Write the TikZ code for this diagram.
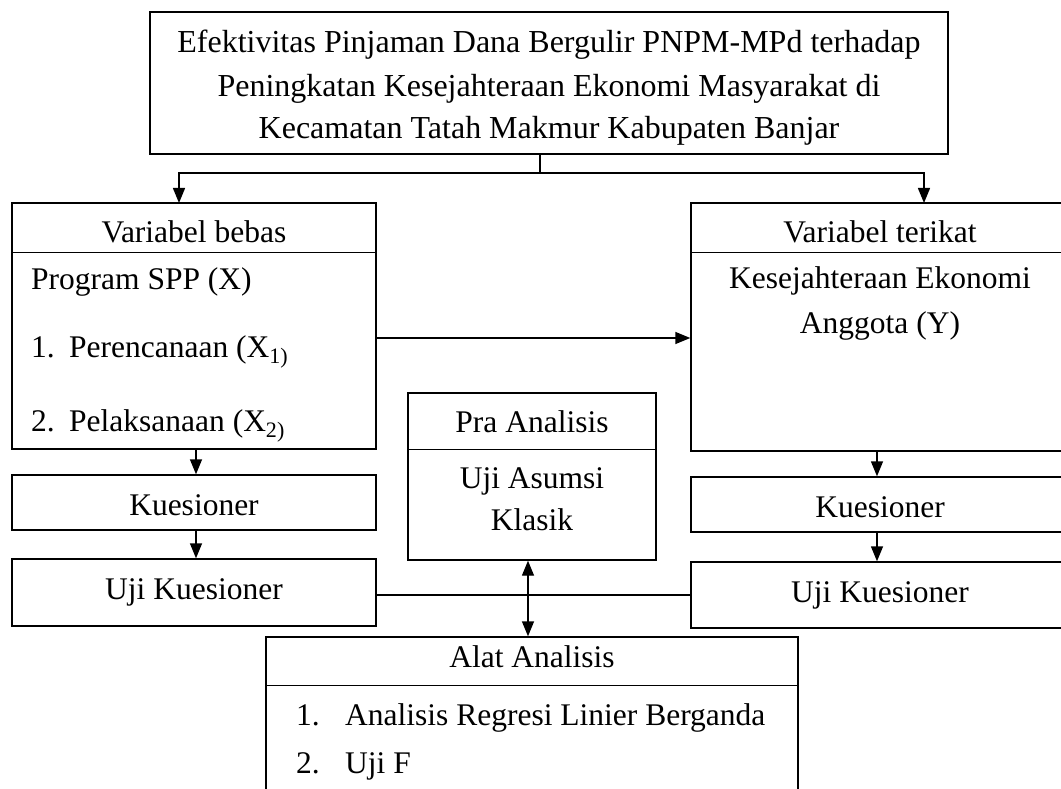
\documentclass[tikz,border=0pt]{standalone}
\usepackage{fontspec}
\setmainfont{Liberation Serif}
\usetikzlibrary{arrows.meta}
\begin{document}
\begin{tikzpicture}[x=1pt,y=-1pt,
  box/.style={draw, line width=1.4pt, inner sep=0pt, minimum width=#1},
  txt/.style={inner sep=0pt, font=\fontsize{31.5}{38}\selectfont},
  title/.style={inner sep=0pt, font=\fontsize{32}{38}\selectfont},
  conn/.style={line width=1.4pt},
  arr/.style={conn, -{Triangle[length=15pt,width=12pt]}},
  arrtwo/.style={conn, {Triangle[length=15pt,width=12pt]}-{Triangle[length=15pt,width=12pt]}}]
\clip (0,0) rectangle (1061,789);
% boxes
\node[box=798pt, minimum height=142pt] (top) at (549,83) {};
\node[box=364pt, minimum height=246pt] (vb) at (194,326) {};
\node[box=378pt, minimum height=248pt] (vt) at (880,327) {};
\node[box=364pt, minimum height=55pt] (kl) at (194,502.5) {};
\node[box=364pt, minimum height=67pt] (ukl) at (194,592.5) {};
\node[box=378pt, minimum height=55pt] (kr) at (880,504.5) {};
\node[box=378pt, minimum height=66pt] (ukr) at (880,595) {};
\node[box=248pt, minimum height=167pt] (pra) at (532,476.5) {};
\node[box=532pt, minimum height=173pt] (alat) at (532,723.5) {};
% dividers
\draw[conn] (vb.north west) ++(0,50) -- ++(364,0);
\draw[conn] (vt.north west) ++(0,50) -- ++(378,0);
\draw[conn] (pra.north west) ++(0,57) -- ++(248,0);
\draw[conn] (alat.north west) ++(0,49) -- ++(532,0);
% texts
\node[title, anchor=base] (t1) at (549,53) {Efektivitas Pinjaman Dana Bergulir PNPM-MPd terhadap};
\node[title, anchor=base] (t2) at (549,97) {Peningkatan Kesejahteraan Ekonomi Masyarakat di};
\node[title, anchor=base] (t3) at (549,139) {Kecamatan Tatah Makmur Kabupaten Banjar};
\node[txt, anchor=base] (vbh) at (194,242) {Variabel bebas};
\node[txt, anchor=base west] (vb1) at (31,289) {Program SPP (X)};
\node[txt, anchor=base west] (vb2) at (31,357) {\makebox[38pt][l]{1.}Perencanaan (X\textsubscript{1)}};
\node[txt, anchor=base west] (vb3) at (31,431) {\makebox[38pt][l]{2.}Pelaksanaan (X\textsubscript{2)}};
\node[txt, anchor=base] (vth) at (880,242) {Variabel terikat};
\node[txt, anchor=base] (vt1) at (880,288) {Kesejahteraan Ekonomi};
\node[txt, anchor=base] (vt2) at (880,333) {Anggota (Y)};
\node[txt, anchor=base] (klt) at (194,515) {Kuesioner};
\node[txt, anchor=base] (uklt) at (194,599) {Uji Kuesioner};
\node[txt, anchor=base] (krt) at (880,517) {Kuesioner};
\node[txt, anchor=base] (ukrt) at (880,602) {Uji Kuesioner};
\node[txt, anchor=base] (prah) at (532,432) {Pra Analisis};
\node[txt, anchor=base] (pra1) at (532,488) {Uji Asumsi};
\node[txt, anchor=base] (pra2) at (532,530) {Klasik};
\node[txt, anchor=base] (alath) at (532,667) {Alat Analisis};
\node[txt, anchor=base west] (al1) at (296,725) {\makebox[49pt][l]{1.}Analisis Regresi Linier Berganda};
\node[txt, anchor=base west] (al2) at (296,773) {\makebox[49pt][l]{2.}Uji F};
% connectors
\coordinate (split) at (540,173);
\coordinate (lt) at (179,203);
\coordinate (rt) at (924,203);
\draw[conn] (top.south -| split) -- (split);
\draw[arr] (split) -| (lt);
\draw[arr] (split) -| (rt);
\draw[arr] (vb.east |- 0,338) -- (vt.west |- 0,338);
\draw[arr] (vb.south -| 196,0) -- (kl.north -| 196,0);
\draw[arr] (kl.south -| 196,0) -- (ukl.north -| 196,0);
\draw[arr] (vt.south -| 877,0) -- (kr.north -| 877,0);
\draw[arr] (kr.south -| 877,0) -- (ukr.north -| 877,0);
\draw[conn] (ukl.east |- 0,595) -- (ukr.west |- 0,595);
\draw[arrtwo] (pra.south -| 528,0) -- (alat.north -| 528,0);
\end{tikzpicture}
\end{document}
